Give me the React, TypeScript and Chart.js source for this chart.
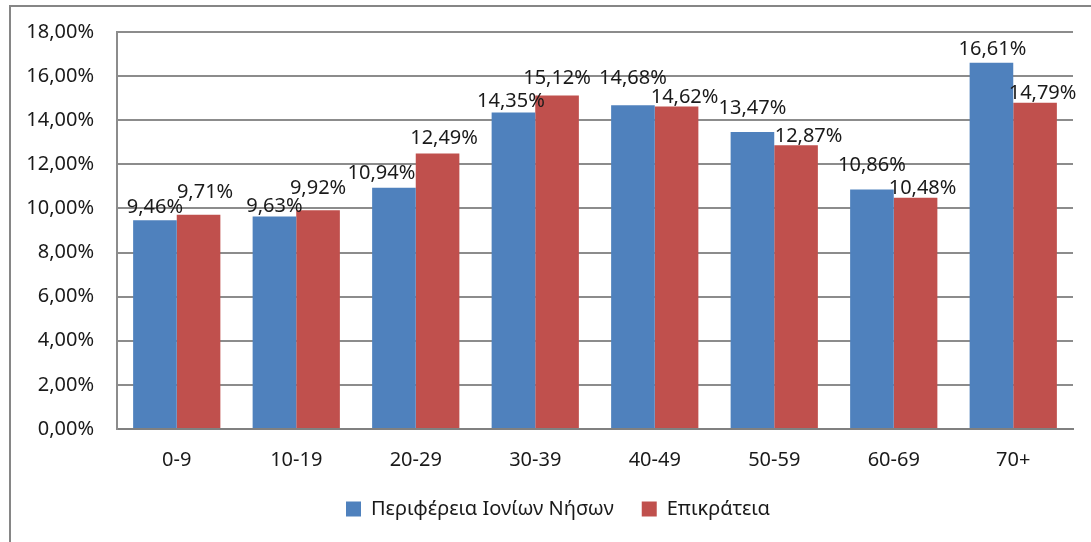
import React, { useEffect, useRef } from "react";
import { Chart, registerables } from "chart.js";

Chart.register(...registerables);

const categories = ["0-9", "10-19", "20-29", "30-39", "40-49", "50-59", "60-69", "70+"];
const seriesNames = ["Περιφέρεια Ιονίων Νήσων", "Επικράτεια"];
const ionianIslands = [9.46, 9.63, 10.94, 14.35, 14.68, 13.47, 10.86, 16.61];
const greeceTotal = [9.71, 9.92, 12.49, 15.12, 14.62, 12.87, 10.48, 14.79];
const yMin = 0;
const yMax = 18;
const yStep = 2;

// label nudges (style only): horizontal shift and height of baseline above bar top
const labelNudgeX = [
  [0, 0, -12.5, -2.5, 0, 0, 0, 1],
  [6.5, 0, 6.5, 0, 8, 12.5, 7, 7.5],
];
const labelLift = [
  [7, 5, 9, 6, 21, 18, 18, 8],
  [17, 16, 10, 12, 4, 3, 4, 4],
];

const FONT = '"Noto Sans", "Open Sans", sans-serif';
const TEXT = "#1a1a1a";
const fmt = (v: number) => v.toFixed(2).replace(".", ",") + "%";

const valueLabels = {
  id: "valueLabels",
  afterDatasetsDraw(chart: any) {
    const ctx = chart.ctx;
    ctx.save();
    ctx.font = `20px ${FONT}`;
    ctx.fillStyle = TEXT;
    ctx.textAlign = "center";
    ctx.textBaseline = "alphabetic";
    chart.data.datasets.forEach((ds: any, di: number) => {
      const meta = chart.getDatasetMeta(di);
      meta.data.forEach((el: any, i: number) => {
        ctx.fillText(fmt(ds.data[i]), el.x + labelNudgeX[di][i], el.y - labelLift[di][i]);
      });
    });
    ctx.restore();
  },
};

const outerFrame = {
  id: "outerFrame",
  beforeDraw(chart: any) {
    const ctx = chart.ctx;
    ctx.save();
    ctx.fillStyle = "#ffffff";
    ctx.fillRect(0, 0, chart.width, chart.height);
    ctx.strokeStyle = "#868686";
    ctx.lineWidth = 2;
    ctx.strokeRect(10, 6, chart.width + 20, chart.height + 20);
    ctx.restore();
  },
  afterLayout(chart: any) {
    // centre the legend on the framed area rather than the whole canvas
    if (chart.legend) chart.legend.left += 43;
  },
};

export default function App() {
  const ref = useRef<HTMLCanvasElement | null>(null);
  useEffect(() => {
    if (!ref.current) return;
    const chart = new Chart(ref.current, {
      type: "bar",
      data: {
        labels: categories,
        datasets: [
          { label: seriesNames[0], data: ionianIslands, backgroundColor: "#4F81BD" },
          { label: seriesNames[1], data: greeceTotal, backgroundColor: "#C0504D" },
        ],
      },
      options: {
        responsive: false,
        animation: false,
        layout: { padding: { top: 32, left: 0, right: 18, bottom: 13 } },
        datasets: { bar: { categoryPercentage: 0.73, barPercentage: 1 } },
        plugins: {
          tooltip: { enabled: false },
          legend: {
            position: "bottom",
            labels: {
              font: { family: FONT, size: 20 },
              color: TEXT,
              boxWidth: 15,
              boxHeight: 15,
              padding: 28,
            },
          },
        },
        scales: {
          x: {
            grid: { display: false },
            border: { display: true, color: "#808080", width: 2 },
            ticks: { font: { family: FONT, size: 20 }, color: TEXT, padding: 11 },
            afterFit: (s: any) => {
              s.height = 42;
            },
          },
          y: {
            min: yMin,
            max: yMax,
            grid: { color: "#8c8c8c", lineWidth: 2, drawTicks: false },
            border: { display: true, color: "#8c8c8c", width: 2 },
            ticks: {
              stepSize: yStep,
              font: { family: FONT, size: 20 },
              color: TEXT,
              padding: 23,
              callback: (v: any) => fmt(Number(v)),
            },
            afterFit: (s: any) => {
              s.width = 117;
              s.paddingTop = 0;
              s.paddingBottom = 0;
            },
          },
        },
      },
      plugins: [outerFrame, valueLabels],
    });
    return () => chart.destroy();
  }, []);
  return (
    <div style={{ position: "absolute", left: 0, top: 0, width: 1091, height: 542 }}>
      <canvas ref={ref} width={1091} height={542} />
    </div>
  );
}
